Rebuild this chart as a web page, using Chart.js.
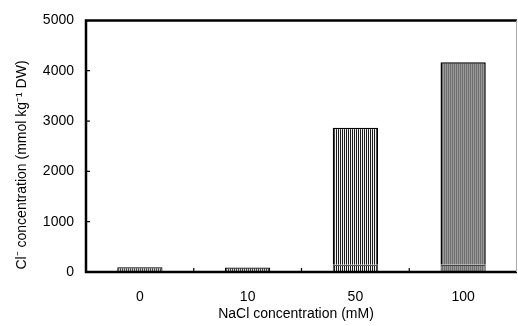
<!DOCTYPE html>
<html>
<head>
<meta charset="utf-8">
<script src="https://cdn.jsdelivr.net/npm/chart.js@4"></script>
<style>
  body { margin: 0; background: #fff; }
  #wrap { width: 518px; height: 326px; }
</style>
</head>
<body>
<div id="wrap"><canvas id="chart" width="518" height="326"></canvas></div>
<script>
// Cl- content by NaCl treatment
const categories = ['0', '10', '50', '100'];
const lowerPart = [95, 90, 145, 145];
const upperPart = [0, 0, 2720, 4025];
const yTicks = [0, 1000, 2000, 3000, 4000, 5000];

const FONT = "'Liberation Sans', Arial, sans-serif";

function stripes(c1, c2) {
    const p = document.createElement('canvas');
    p.width = 2; p.height = 4;
    const g = p.getContext('2d');
    g.fillStyle = c2; g.fillRect(0, 0, 2, 4);
    g.fillStyle = c1; g.fillRect(0, 0, 1, 4);
    return g.createPattern(p, 'repeat');
}

const ctx = document.getElementById('chart').getContext('2d');
const whiteHatch = stripes('#1a1a1a', '#f4f4f4');
const lightHatch = stripes('#444', '#d4d4d4');
const grayHatch = stripes('#6e6e6e', '#9a9a9a');
const fills = [lightHatch, lightHatch, whiteHatch, grayHatch];

// frame, inward ticks and axis titles
const framePlugin = {
    id: 'frame',
    afterDraw(chart) {
        const { ctx, chartArea: a, scales } = chart;
        ctx.save();
        ctx.strokeStyle = '#000';
        ctx.lineWidth = 2.5;
        ctx.beginPath();
        ctx.moveTo(a.right, a.top);
        ctx.lineTo(a.left, a.top);
        ctx.lineTo(a.left, a.bottom);
        ctx.lineTo(a.right, a.bottom);
        ctx.stroke();
        ctx.strokeStyle = '#aaa';
        ctx.lineWidth = 1;
        ctx.beginPath();
        ctx.moveTo(a.right - 0.5, a.top);
        ctx.lineTo(a.right - 0.5, a.bottom);
        ctx.stroke();

        ctx.strokeStyle = '#000';
        ctx.lineWidth = 1.2;
        ctx.beginPath();
        yTicks.slice(1, -1).forEach(v => {
            const y = scales.y.getPixelForValue(v);
            ctx.moveTo(a.left, y);
            ctx.lineTo(a.left + 4, y);
        });
        for (let i = 1; i < categories.length; i++) {
            const x = (scales.x.getPixelForValue(i - 1) + scales.x.getPixelForValue(i)) / 2;
            ctx.moveTo(x, a.bottom);
            ctx.lineTo(x, a.bottom - 4);
        }
        ctx.stroke();

        ctx.fillStyle = '#000';
        ctx.font = '14px ' + FONT;
        ctx.textAlign = 'center';
        ctx.textBaseline = 'middle';
        ctx.fillText('NaCl concentration (mM)', 296, 314);
        ctx.translate(22, 165);
        ctx.rotate(-Math.PI / 2);
        ctx.fillText('Cl\u207B concentration (mmol kg\u207B\u00B9 DW)', 0, 0);
        ctx.restore();
    },
};

new Chart(ctx, {
    type: 'bar',
    data: {
        labels: categories,
        datasets: [{
            label: 'lower',
            data: lowerPart,
            backgroundColor: fills,
            borderColor: ['#000', '#000', '#555', '#444'],
            borderWidth: 1.2,
            borderSkipped: 'bottom',
            barPercentage: 0.42,
            categoryPercentage: 1,
        }, {
            label: 'upper',
            data: upperPart,
            backgroundColor: fills,
            borderColor: '#000',
            borderWidth: 1.5,
            borderSkipped: 'bottom',
            barPercentage: 0.42,
            categoryPercentage: 1,
        }],
    },
    options: {
        responsive: false,
        animation: false,
        layout: { padding: { top: 14, right: 1, left: 0, bottom: 0 } },
        plugins: {
            legend: { display: false },
            tooltip: { enabled: false },
        },
        scales: {
            x: {
                stacked: true,
                grid: { display: false, drawTicks: false },
                border: { display: false },
                ticks: {
                    color: '#000',
                    padding: 17,
                    font: { family: FONT, size: 14 },
                },
                afterFit(s) { s.height = 54; },
            },
            y: {
                stacked: true,
                min: 0,
                max: 5000,
                afterBuildTicks(s) { s.ticks = yTicks.map(v => ({ value: v })); },
                grid: { display: false, drawTicks: false },
                border: { display: false },
                ticks: {
                    color: '#000',
                    padding: 12,
                    font: { family: FONT, size: 14 },
                    callback: v => String(v),
                },
                afterFit(s) { s.width = 86; },
            },
        },
    },
    plugins: [framePlugin],
});
</script>
</body>
</html>
